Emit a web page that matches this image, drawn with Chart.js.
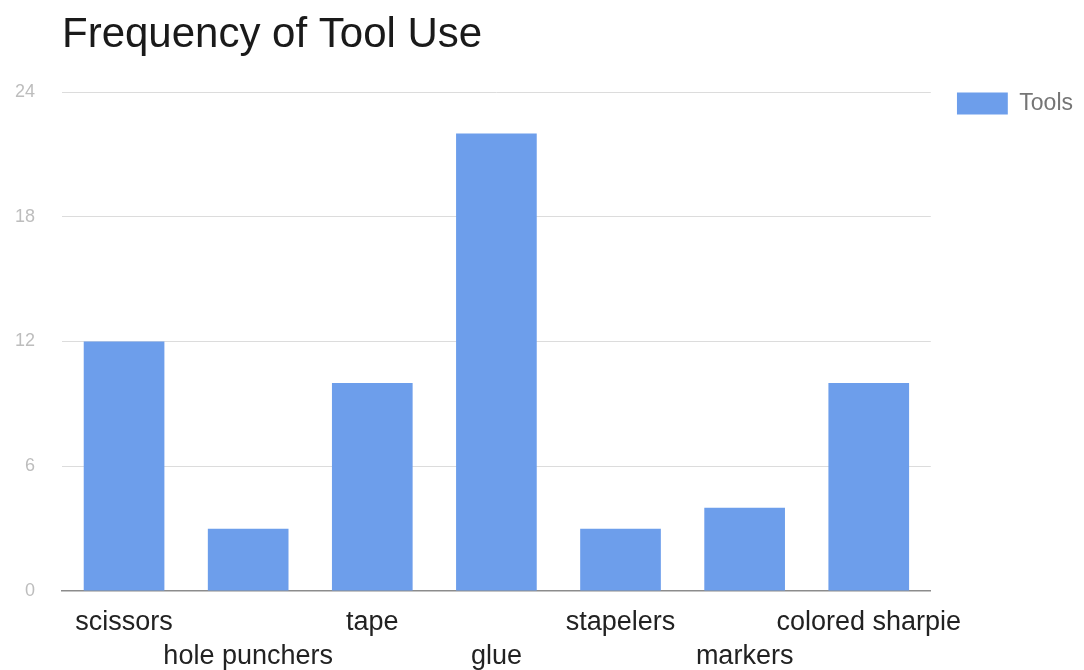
<!DOCTYPE html>
<html>
<head>
<meta charset="utf-8">
<script src="https://cdn.jsdelivr.net/npm/chart.js@4/dist/chart.umd.min.js"></script>
<style>
  html, body { margin: 0; padding: 0; background: #ffffff; }
  #wrap { width: 1084px; height: 670px; }
</style>
</head>
<body>
<div id="wrap"><canvas id="c" width="1084" height="670"></canvas></div>
<script>
const chartTitle = 'Frequency of Tool Use';
const seriesName = 'Tools';
const categories = ['scissors', 'hole punchers', 'tape', 'glue', 'stapelers', 'markers', 'colored sharpie'];
const toolCounts = [12, 3, 10, 22, 3, 4, 10];
const yTickValues = [0, 6, 12, 18, 24];

// staggered two-row category labels
const staggeredLabels = categories.map((c, i) => (i % 2 === 0 ? [c, ''] : ['', c]));

const FONT = "'Liberation Sans', Arial, sans-serif";

new Chart(document.getElementById('c'), {
  type: 'bar',
  data: {
    labels: staggeredLabels,
    datasets: [{
      label: seriesName,
      data: toolCounts,
      backgroundColor: '#6d9eeb',
      borderWidth: 0,
      categoryPercentage: 1.0,
      barPercentage: 0.65
    }]
  },
  options: {
    responsive: false,
    animation: false,
    layout: { padding: { left: 0, right: 1, top: 0, bottom: 0 } },
    plugins: {
      tooltip: { enabled: false },
      title: {
        display: true,
        text: chartTitle,
        align: 'start',
        fullSize: false,
        color: '#1a1a1a',
        font: { family: FONT, size: 42, weight: 'normal' },
        padding: { top: 10, bottom: 31.6 }
      },
      legend: {
        display: true,
        position: 'right',
        align: 'start',
        fullSize: false,
        labels: {
          boxWidth: 51,
          boxHeight: 22,
          padding: 0,
          color: '#757575',
          font: { family: FONT, size: 23 }
        }
      }
    },
    scales: {
      x: {
        grid: { display: false, drawTicks: false },
        border: { display: true, color: '#8c8c8c', width: 1.5 },
        ticks: {
          color: '#222222',
          font: { family: FONT, size: 27, lineHeight: 1.26 },
          padding: 15,
          maxRotation: 0,
          minRotation: 0,
          autoSkip: false
        },
        afterFit: s => { s.height = 79; }
      },
      y: {
        min: 0,
        max: 24,
        afterBuildTicks: s => { s.ticks = yTickValues.map(v => ({ value: v })); },
        grid: {
          drawTicks: false,
          color: ctx => (ctx.tick && ctx.tick.value === 0 ? 'rgba(0,0,0,0)' : '#dcdcdc'),
          lineWidth: 1
        },
        border: { display: false },
        ticks: {
          color: '#bdbdbd',
          font: { family: FONT, size: 18 },
          padding: 27
        },
        afterFit: s => { s.width = 62; }
      },
      gap: {
        type: 'linear',
        position: 'right',
        display: true,
        grid: { display: false, drawTicks: false },
        border: { display: false },
        ticks: { display: false },
        afterFit: s => { s.width = 26; }
      }
    }
  }
});
</script>
</body>
</html>
